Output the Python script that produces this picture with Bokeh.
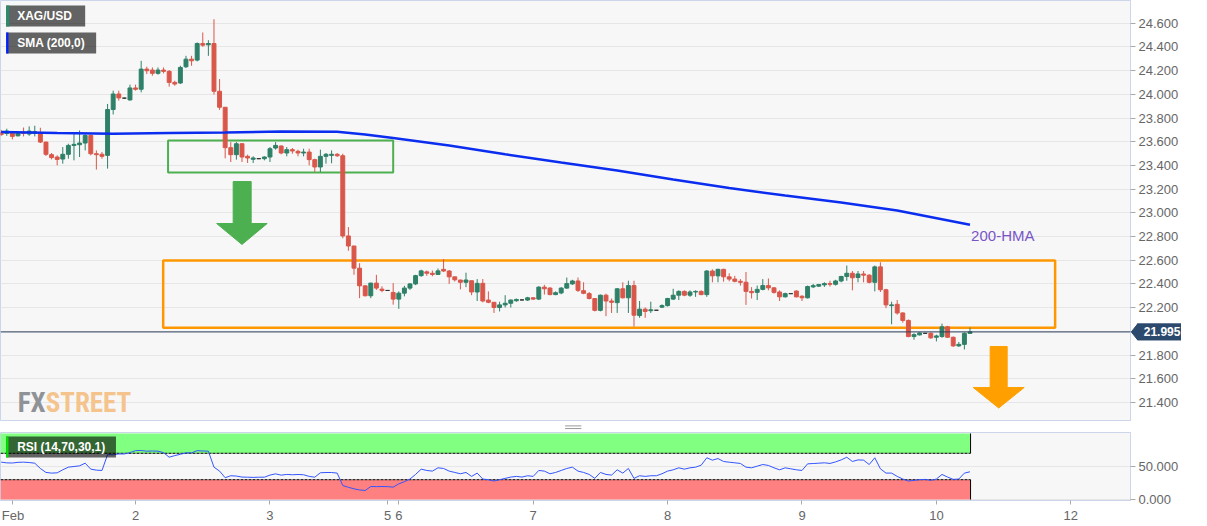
from bokeh.plotting import figure
from bokeh.layouts import column
from bokeh.models import Range1d, FixedTicker, PrintfTickFormatter, Span, ColumnDataSource
from bokeh.core.properties import value
from bokeh.embed import file_html
from bokeh.resources import INLINE

# ---------------- data (hourly XAG/USD candles) ----------------
opens = [23.680, 23.670, 23.675, 23.650, 23.680, 23.665, 23.670, 23.667, 23.597, 23.491,
         23.471, 23.454, 23.494, 23.569, 23.575, 23.589, 23.653, 23.499, 23.494, 23.485,
         23.872, 24.003, 23.968, 23.953, 24.054, 24.043, 24.213, 24.205, 24.177, 24.205,
         24.194, 24.101, 24.096, 24.233, 24.297, 24.289, 24.429, 24.418, 24.429, 24.026,
         23.891, 23.550, 23.491, 23.583, 23.477, 23.452, 23.457, 23.457, 23.471, 23.547,
         23.564, 23.505, 23.533, 23.519, 23.505, 23.513, 23.449, 23.387, 23.477, 23.485,
         23.494, 23.482, 22.805, 22.720, 22.533, 22.384, 22.300, 22.407, 22.356, 22.345,
         22.328, 22.272, 22.322, 22.365, 22.400, 22.470, 22.502, 22.490, 22.480, 22.523,
         22.509, 22.460, 22.433, 22.414, 22.427, 22.332, 22.405, 22.264, 22.245, 22.201,
         22.223, 22.237, 22.258, 22.265, 22.264, 22.283, 22.272, 22.373, 22.365, 22.310,
         22.324, 22.365, 22.400, 22.425, 22.343, 22.318, 22.277, 22.177, 22.305, 22.256,
         22.242, 22.359, 22.283, 22.386, 22.133, 22.187, 22.174, 22.178, 22.204, 22.217,
         22.272, 22.305, 22.337, 22.305, 22.332, 22.337, 22.310, 22.509, 22.468, 22.523,
         22.460, 22.441, 22.422, 22.414, 22.337, 22.329, 22.354, 22.386, 22.367, 22.332,
         22.291, 22.318, 22.340, 22.296, 22.283, 22.375, 22.381, 22.392, 22.403, 22.397,
         22.425, 22.463, 22.490, 22.454, 22.484, 22.474, 22.414, 22.544, 22.351, 22.217,
         22.228, 22.155, 22.092, 21.956, 21.970, 21.983, 21.983, 21.950, 21.956, 22.038,
         21.950, 21.877, 21.890, 21.983]

highs = [23.700, 23.710, 23.680, 23.685, 23.720, 23.730, 23.735, 23.718, 23.600, 23.505,
         23.485, 23.555, 23.583, 23.667, 23.695, 23.662, 23.662, 23.527, 23.513, 23.919,
         24.031, 24.031, 23.972, 24.082, 24.082, 24.283, 24.233, 24.227, 24.227, 24.227,
         24.205, 24.115, 24.241, 24.325, 24.325, 24.438, 24.522, 24.457, 24.634, 24.129,
         23.891, 23.597, 23.597, 23.589, 23.491, 23.477, 23.459, 23.477, 23.555, 23.597,
         23.569, 23.555, 23.547, 23.533, 23.541, 23.541, 23.457, 23.533, 23.505, 23.527,
         23.505, 23.499, 22.880, 22.720, 22.575, 22.390, 22.410, 22.477, 22.380, 22.347,
         22.407, 22.337, 22.384, 22.407, 22.477, 22.520, 22.513, 22.513, 22.530, 22.610,
         22.517, 22.460, 22.435, 22.495, 22.427, 22.441, 22.441, 22.337, 22.245, 22.250,
         22.305, 22.269, 22.277, 22.268, 22.291, 22.288, 22.381, 22.392, 22.373, 22.337,
         22.373, 22.454, 22.435, 22.454, 22.414, 22.332, 22.277, 22.310, 22.318, 22.277,
         22.365, 22.414, 22.427, 22.427, 22.256, 22.201, 22.250, 22.180, 22.228, 22.283,
         22.359, 22.346, 22.346, 22.346, 22.346, 22.346, 22.517, 22.523, 22.528, 22.528,
         22.490, 22.468, 22.441, 22.501, 22.373, 22.386, 22.441, 22.446, 22.373, 22.346,
         22.326, 22.320, 22.346, 22.305, 22.386, 22.400, 22.400, 22.414, 22.427, 22.435,
         22.468, 22.555, 22.509, 22.509, 22.509, 22.482, 22.555, 22.583, 22.359, 22.250,
         22.264, 22.160, 22.100, 21.983, 21.991, 21.986, 21.991, 21.972, 22.065, 22.046,
         21.956, 21.910, 21.991, 22.032]

lows = [23.650, 23.650, 23.620, 23.645, 23.645, 23.650, 23.645, 23.589, 23.480, 23.451,
        23.401, 23.415, 23.457, 23.443, 23.471, 23.527, 23.485, 23.365, 23.457, 23.373,
        23.830, 23.947, 23.965, 23.947, 24.031, 24.017, 24.171, 24.157, 24.166, 24.177,
        24.065, 24.073, 24.087, 24.222, 24.241, 24.278, 24.401, 24.325, 23.998, 23.869,
        23.460, 23.429, 23.449, 23.429, 23.421, 23.421, 23.455, 23.443, 23.429, 23.533,
        23.494, 23.477, 23.499, 23.477, 23.477, 23.401, 23.345, 23.345, 23.415, 23.418,
        23.471, 22.785, 22.680, 22.477, 22.280, 22.295, 22.280, 22.350, 22.330, 22.343,
        22.225, 22.190, 22.295, 22.350, 22.390, 22.460, 22.468, 22.465, 22.477, 22.500,
        22.400, 22.420, 22.354, 22.373, 22.305, 22.256, 22.245, 22.237, 22.155, 22.168,
        22.201, 22.201, 22.250, 22.262, 22.256, 22.264, 22.264, 22.310, 22.305, 22.305,
        22.313, 22.359, 22.392, 22.332, 22.313, 22.269, 22.168, 22.168, 22.128, 22.155,
        22.155, 22.277, 22.155, 22.040, 22.114, 22.114, 22.155, 22.175, 22.196, 22.209,
        22.264, 22.264, 22.296, 22.291, 22.291, 22.305, 22.291, 22.414, 22.414, 22.419,
        22.422, 22.414, 22.386, 22.223, 22.277, 22.264, 22.346, 22.346, 22.318, 22.256,
        22.286, 22.315, 22.286, 22.256, 22.277, 22.365, 22.375, 22.375, 22.378, 22.386,
        22.414, 22.427, 22.346, 22.414, 22.414, 22.405, 22.337, 22.332, 22.196, 22.059,
        22.141, 22.073, 21.950, 21.929, 21.965, 21.980, 21.937, 21.915, 21.945, 21.945,
        21.869, 21.869, 21.847, 21.978]

closes = [23.660, 23.690, 23.645, 23.675, 23.670, 23.690, 23.685, 23.597, 23.494, 23.466,
          23.451, 23.494, 23.569, 23.578, 23.589, 23.653, 23.499, 23.491, 23.477, 23.872,
          24.003, 23.970, 23.968, 24.054, 24.043, 24.213, 24.199, 24.177, 24.205, 24.194,
          24.101, 24.087, 24.227, 24.297, 24.283, 24.429, 24.415, 24.429, 24.026, 23.891,
          23.550, 23.491, 23.583, 23.471, 23.463, 23.463, 23.457, 23.471, 23.541, 23.569,
          23.505, 23.533, 23.522, 23.505, 23.513, 23.449, 23.387, 23.477, 23.494, 23.494,
          23.482, 22.805, 22.720, 22.533, 22.384, 22.300, 22.407, 22.365, 22.345, 22.345,
          22.272, 22.322, 22.365, 22.400, 22.470, 22.510, 22.490, 22.480, 22.510, 22.509,
          22.460, 22.435, 22.414, 22.433, 22.332, 22.405, 22.256, 22.245, 22.201, 22.223,
          22.237, 22.264, 22.269, 22.265, 22.283, 22.272, 22.373, 22.359, 22.310, 22.326,
          22.365, 22.403, 22.425, 22.346, 22.321, 22.277, 22.177, 22.305, 22.256, 22.245,
          22.359, 22.283, 22.386, 22.136, 22.187, 22.168, 22.182, 22.178, 22.217, 22.277,
          22.305, 22.337, 22.305, 22.332, 22.337, 22.310, 22.509, 22.468, 22.523, 22.460,
          22.441, 22.422, 22.414, 22.337, 22.326, 22.354, 22.386, 22.367, 22.329, 22.291,
          22.318, 22.318, 22.291, 22.283, 22.378, 22.386, 22.395, 22.403, 22.397, 22.425,
          22.463, 22.490, 22.452, 22.484, 22.474, 22.414, 22.544, 22.351, 22.223, 22.223,
          22.155, 22.092, 21.956, 21.972, 21.986, 21.983, 21.945, 21.961, 22.038, 21.950,
          21.877, 21.890, 21.983, 21.995]

rsi = [56.6, 55.5, 55.3, 56.3, 56.6, 56.0, 55.0, 47.0, 41.0, 40.0,
       40.4, 45.0, 49.0, 50.0, 51.0, 55.0, 46.0, 44.5, 44.0, 68.0,
       67.7, 69.0, 69.0, 71.0, 74.0, 74.2, 73.2, 73.5, 73.2, 71.0,
       64.1, 66.5, 68.5, 70.7, 70.7, 74.0, 73.5, 73.2, 49.0, 43.0,
       33.0, 36.0, 35.5, 34.0, 33.8, 33.5, 33.8, 33.8, 37.0, 38.9,
       36.9, 38.0, 37.5, 37.9, 37.5, 35.0, 33.8, 40.5, 40.9, 40.9,
       40.0, 21.2, 18.5, 16.2, 14.5, 13.6, 19.7, 19.5, 19.7, 19.5,
       18.7, 23.7, 27.0, 31.0, 38.0, 46.0, 44.0, 43.0, 48.0, 47.0,
       43.0, 41.0, 39.0, 41.0, 35.0, 40.0, 31.0, 30.0, 28.0, 30.0,
       32.0, 34.0, 35.0, 34.0, 36.0, 35.0, 44.0, 43.0, 39.0, 41.0,
       44.0, 47.0, 49.0, 43.0, 41.0, 38.0, 32.0, 41.0, 38.0, 37.0,
       45.0, 40.0, 47.0, 32.0, 36.0, 35.0, 36.0, 36.0, 39.0, 43.0,
       45.0, 48.0, 46.0, 48.0, 49.0, 52.0, 63.2, 59.6, 62.0, 57.6,
       56.5, 55.6, 54.6, 49.0, 48.0, 50.5, 53.0, 51.6, 48.0, 45.0,
       48.0, 46.5, 45.0, 44.0, 54.0, 54.5, 55.0, 55.6, 54.6, 57.0,
       60.0, 64.0, 57.6, 60.0, 59.6, 53.0, 63.2, 46.5, 40.0, 40.0,
       35.0, 31.0, 28.0, 29.0, 30.0, 30.5, 29.0, 31.0, 38.0, 34.0,
       30.5, 31.0, 40.0, 42.0]

hma_idx = [0, 10, 20, 30, 40, 50, 60, 65, 70, 80, 90, 100, 110, 120, 130, 140, 150, 160, 173]
hma_val = [23.682, 23.673, 23.667, 23.673, 23.679, 23.686, 23.684, 23.661, 23.631, 23.568,
           23.494, 23.424, 23.357, 23.281, 23.209, 23.146, 23.087, 23.019, 22.900]

day_tick_pos = [2.1, 24, 48, 69, 71, 95, 119, 143, 167, 191]
day_tick_labels = ["Feb", "2", "3", "5", "6", "7", "8", "9", "10", "12"]
price_ticks = [21.4, 21.6, 21.8, 22.0, 22.2, 22.4, 22.6, 22.8, 23.0, 23.2, 23.4, 23.6,
               23.8, 24.0, 24.2, 24.4, 24.6]
rsi_ticks = [0, 50]
last_price = 21.995
rsi_upper, rsi_lower = 70, 30

# annotation levels (price / candle index)
green_box = dict(left=29.8, right=70.0, top=23.61, bottom=23.34)
orange_box = dict(left=28.93, right=188.2, top=22.598, bottom=22.03)
green_arrow_x = [41.43, 44.64, 44.64, 47.5, 43.0, 38.48, 41.43]
green_arrow_y = [23.264, 23.264, 22.91, 22.91, 22.733, 22.91, 22.91]
orange_arrow_x = [176.6, 179.64, 179.64, 182.68, 178.13, 173.57, 176.6]
orange_arrow_y = [21.872, 21.872, 21.526, 21.526, 21.353, 21.526, 21.526]

# ---------------- styling ----------------
FONT = "Liberation Sans"
UP, DN, FLAT = "#2e8068", "#d9574a", "#333333"
BG = "#f7f7f7"
FRAME = "#ccd6eb"
GRID = "#e6e6e6"
LBL = "#666666"
TAG = "#2c4a6e"

n = len(closes)
idx = list(range(n))
colors = [UP if c > o else (DN if c < o else FLAT) for o, c in zip(opens, closes)]
src = ColumnDataSource(dict(x=idx, o=opens, h=highs, l=lows, c=closes,
                            top=[max(o, c) for o, c in zip(opens, closes)],
                            bottom=[min(o, c) for o, c in zip(opens, closes)],
                            color=colors))

xr = Range1d(-0.12, 201.66)

p1 = figure(frame_width=1130, frame_height=421, x_range=xr, y_range=Range1d(21.239, 24.792),
            x_axis_location=None, y_axis_location="right", toolbar_location=None,
            output_backend="svg", min_border_left=0, min_border_top=0,
            min_border_bottom=0, min_border_right=0)
p1.background_fill_color = BG
p1.border_fill_color = "white"
p1.outline_line_color = FRAME
p1.xgrid.visible = False
p1.ygrid.grid_line_color = GRID
p1.ygrid.ticker = FixedTicker(ticks=price_ticks)
ya = p1.yaxis[0]
ya.ticker = FixedTicker(ticks=price_ticks)
ya.formatter = PrintfTickFormatter(format="%.3f")
ya.major_label_overrides = {22.0: ""}   # hidden behind the price tag
ya.major_label_text_font = FONT
ya.major_label_text_font_size = "13px"
ya.major_label_text_color = LBL
ya.axis_line_color = FRAME
ya.major_tick_line_color = "#aaaaaa"
ya.major_tick_out = 5
ya.major_tick_in = 0
ya.minor_tick_line_color = None
ya.major_label_standoff = 3

# boxes & arrows (behind candles)
p1.quad(line_color="#ff9800", line_width=2.5, fill_color=None, **orange_box)
p1.quad(line_color="#4caf50", line_width=2, fill_color=None, **green_box)
p1.patch(green_arrow_x, green_arrow_y, fill_color="#4caf50", line_color="#4caf50")
p1.patch(orange_arrow_x, orange_arrow_y, fill_color="#ffa000", line_color="#ffa000")

# current price line
p1.add_layout(Span(location=last_price, dimension="width", line_color="#2b3f5c", line_width=1))

# candles
p1.segment(x0="x", y0="l", x1="x", y1="h", line_color="color", line_width=1, source=src)
p1.vbar(x="x", width=0.7, top="top", bottom="bottom", fill_color="color",
        line_color="color", line_width=1, source=src)

# 200-HMA
p1.line(hma_idx, hma_val, line_color="#0b2df0", line_width=2.5)
p1.text(x=[173.2], y=[22.808], text=["200-HMA"], text_font=value(FONT), text_font_size="15px",
        text_color="#7a55c8", text_baseline="middle", text_align="left")

# top-left legends
p1.quad(left=[0.89, 0.89], right=[15.0, 16.96], top=[24.749, 24.522], bottom=[24.572, 24.344],
        fill_color="black", fill_alpha=0.6, line_color=None)
p1.quad(left=[0.89, 0.89], right=[1.43, 1.3], top=[24.749, 24.522], bottom=[24.572, 24.344],
        fill_color=["#2a8a6e", "#0022ff"], line_color=None)
p1.text(x=[2.86, 2.86], y=[24.661, 24.433], text=["XAG/USD", "SMA (200,0)"],
        text_font=value(FONT), text_font_size="12px", text_font_style="bold",
        text_color="white", text_baseline="middle", text_align="left")

# watermark
WM_FONT = "Roboto Condensed, DejaVu Sans Condensed, Roboto"
p1.text(x=[7.95], y=[21.393], text=["FX"], text_font=value(WM_FONT),
        text_font_size="27px", text_font_style="bold", text_color="#8f9296",
        text_align="right", text_baseline="alphabetic")
p1.text(x=[7.95], y=[21.393], text=["STREET"], text_font=value(WM_FONT),
        text_font_size="27px", text_font_style="bold", text_color="#f5c38c",
        text_align="left", text_baseline="alphabetic")

# price tag drawn in the axis margin (overlay level)
tag_h = 0.068
p1.patch([201.8, 202.95, 202.95], [last_price, last_price + tag_h, last_price - tag_h],
         fill_color=TAG, line_color=TAG, level="overlay")
p1.quad(left=[202.9], right=[211.7], top=[last_price + tag_h], bottom=[last_price - tag_h],
        fill_color=TAG, line_color=TAG, level="overlay")
p1.text(x=[207.3], y=[last_price], text=[f"{last_price:.3f}"], text_font=value(FONT),
        text_font_size="12px", text_font_style="bold", text_color="white",
        text_align="center", text_baseline="middle", level="overlay")

# ---------------- RSI panel ----------------
p2 = figure(frame_width=1130, frame_height=68, x_range=xr, y_range=Range1d(-1.5, 101.5),
            y_axis_location="right", toolbar_location=None, output_backend="svg",
            min_border_left=0, min_border_top=11, min_border_bottom=0, min_border_right=0)
p2.background_fill_color = BG
p2.border_fill_color = "white"
p2.outline_line_color = FRAME
p2.xgrid.visible = False
p2.ygrid.grid_line_color = GRID
p2.ygrid.ticker = FixedTicker(ticks=rsi_ticks)

band_end = n - 1 + 0.1
p2.quad(left=[xr.start, xr.start], right=[band_end, band_end], bottom=[rsi_upper, 0],
        top=[100, rsi_lower], fill_color=["#80ff80", "#ff8080"], line_color=None)
p2.segment(x0=[xr.start, xr.start], y0=[rsi_upper, rsi_lower], x1=[band_end, band_end],
           y1=[rsi_upper, rsi_lower], line_color="black", line_width=1, line_dash="3 1")
p2.segment(x0=[band_end, band_end], y0=[rsi_upper, 0], x1=[band_end, band_end],
           y1=[100, rsi_lower], line_color="black", line_width=1)
p2.line(idx, rsi, line_color="#3355ff", line_width=1)

p2.quad(left=[0.89], right=[20.5], top=[95.5], bottom=[63.6], fill_color="black",
        fill_alpha=0.6, line_color=None)
p2.quad(left=[0.89], right=[1.3], top=[95.5], bottom=[63.6], fill_color="#00e000", line_color=None)
p2.text(x=[2.86], y=[79.5], text=["RSI (14,70,30,1)"], text_font=value(FONT),
        text_font_size="12px", text_font_style="bold", text_color="white",
        text_baseline="middle", text_align="left")

# panel separator handle (above the RSI frame)
p2.segment(x0=[100.7, 100.7], y0=[107.5, 111.5], x1=[103.6, 103.6], y1=[107.5, 111.5],
           line_color="#999999", line_width=1, level="overlay")

ya2 = p2.yaxis[0]
ya2.ticker = FixedTicker(ticks=rsi_ticks)
ya2.formatter = PrintfTickFormatter(format="%.3f")
ya2.major_label_text_font = FONT
ya2.major_label_text_font_size = "13px"
ya2.major_label_text_color = LBL
ya2.axis_line_color = FRAME
ya2.major_tick_line_color = "#aaaaaa"
ya2.major_tick_out = 5
ya2.major_tick_in = 0
ya2.minor_tick_line_color = None
ya2.major_label_standoff = 3

xa = p2.xaxis[0]
xa.ticker = FixedTicker(ticks=day_tick_pos)
xa.major_label_overrides = {pos: lab for pos, lab in zip(day_tick_pos, day_tick_labels)}
xa.major_label_text_font = FONT
xa.major_label_text_font_size = "13px"
xa.major_label_text_color = LBL
xa.axis_line_color = FRAME
xa.major_tick_line_color = "#aaaaaa"
xa.major_tick_out = 4
xa.major_tick_in = 0
xa.minor_tick_line_color = None
xa.major_label_standoff = 3

layout = column(p1, p2)
open("out.html", "w").write(file_html(layout, INLINE, "XAG/USD"))
